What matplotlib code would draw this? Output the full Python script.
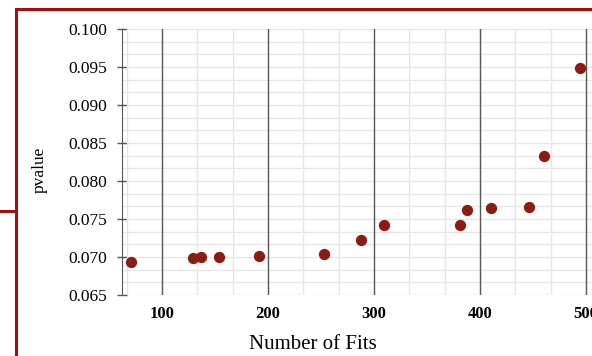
import matplotlib
matplotlib.use("Agg")
import matplotlib.pyplot as plt
from matplotlib.ticker import MultipleLocator, FormatStrFormatter
from matplotlib.lines import Line2D

# data
n_fits = [70.8, 129.2, 136.8, 153.8, 191.5, 252.8, 287.7, 309.4,
          381.0, 387.7, 410.4, 446.2, 460.4, 494.3]
pvalue = [0.0694, 0.0699, 0.0700, 0.0700, 0.0701, 0.0704, 0.0722, 0.0742,
          0.0742, 0.0762, 0.0765, 0.0766, 0.0833, 0.0949]

plt.rcParams["font.family"] = ["Liberation Serif", "DejaVu Serif"]

W, H = 592, 356
fig = plt.figure(figsize=(W / 100, H / 100), dpi=100)
ax = fig.add_axes([122 / W, 1 - 295 / H, (W - 122) / W, 266 / H])

ax.scatter(n_fits, pvalue, s=66, color="#8c1c13", zorder=3, linewidths=0)

ax.set_xlim(62.3, 505.7)
ax.set_ylim(0.065, 0.100)

ax.xaxis.set_major_locator(MultipleLocator(100))
ax.xaxis.set_minor_locator(MultipleLocator(100 / 3))
ax.yaxis.set_major_locator(MultipleLocator(0.005))
ax.yaxis.set_minor_locator(MultipleLocator(0.005 / 3))
ax.yaxis.set_major_formatter(FormatStrFormatter("%.3f"))

ax.xaxis.grid(True, which="major", color="#555555", lw=1.0)
ax.xaxis.grid(True, which="minor", color="#e6e6e6", lw=1.0)
ax.yaxis.grid(True, which="both", color="#e6e6e6", lw=1.0)
ax.set_axisbelow(True)
# dark vertical lines on top of the light horizontal ones
ax.xaxis.set_zorder(0.6)

for s in ["top", "right", "bottom"]:
    ax.spines[s].set_visible(False)
ax.spines["left"].set_color("#555555")
ax.spines["left"].set_zorder(0.7)

ax.tick_params(axis="x", which="both", length=0, pad=8, labelsize=12)
ax.tick_params(axis="y", which="major", direction="inout", length=7, width=1,
               color="#555555", pad=7, labelsize=12.5)
ax.tick_params(axis="y", which="minor", length=0)
for lab in ax.get_xticklabels():
    lab.set_fontweight("bold")

ax.set_xlabel("Number of Fits", fontsize=15)
ax.xaxis.set_label_coords(0.407, -0.150)
ax.set_ylabel("pvalue", fontsize=12.5)
ax.yaxis.set_label_coords(-0.158, 0.47)

# red frame around the figure panel
red = "#a30f0f"
fig.add_artist(Line2D([16 / W, 16 / W], [-0.1, 1 - 9 / H], color=red, lw=2.2))
fig.add_artist(Line2D([16 / W, 1.1], [1 - 9 / H, 1 - 9 / H], color=red, lw=2.2))
fig.add_artist(Line2D([0, 16 / W], [1 - 211 / H, 1 - 211 / H], color=red, lw=2.2))

fig.savefig("out.png", dpi=100)
